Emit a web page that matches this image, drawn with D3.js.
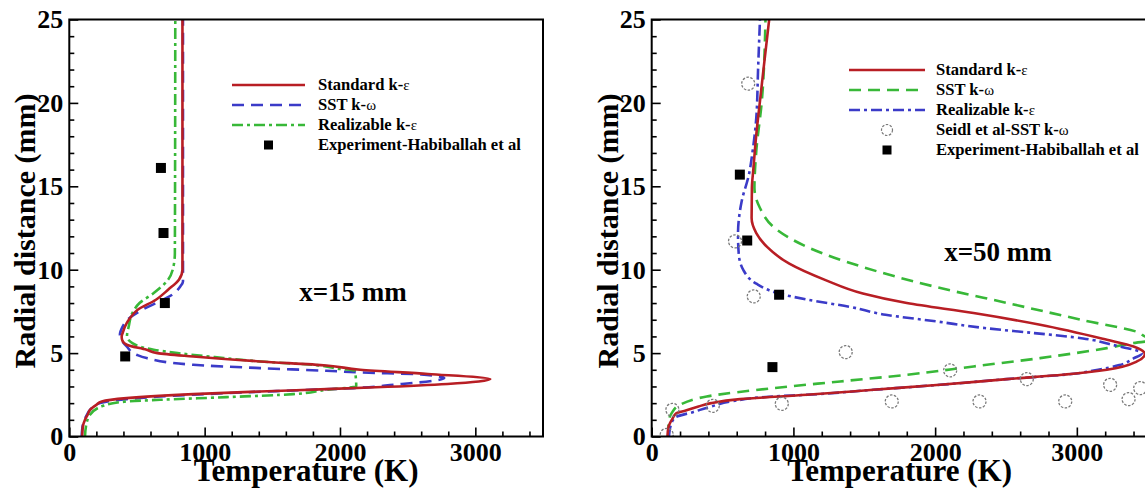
<!DOCTYPE html>
<html><head><meta charset="utf-8">
<script src="https://cdn.jsdelivr.net/npm/d3@7"></script>
<style>
body{margin:0;background:#fff}
text{font-family:"Liberation Serif","Times New Roman",serif;font-weight:bold;fill:#000}
</style>
</head><body>
<svg id="chart" width="1145" height="488"></svg>
<script>
// ---- data: [temperature (K), radial distance (mm)] ----
// Panel x = 15 mm
const left_standard = [[95,0],[100,0.6],[116,1.0],[135,1.3],[153,1.6],[200,1.9],[240,2.1],[424,2.3],[916,2.54],[1409,2.7],[1901,2.84],[2265,2.95],[2794,3.15],[3111,3.44],[2650,3.75],[2150,4.0],[1900,4.26],[1409,4.5],[916,4.8],[651,5.0],[571,5.2],[424,5.5],[390,5.8],[387,6.0],[394,6.2],[424,6.8],[440,7.0],[505,7.6],[640,8.2],[730,8.8],[810,9.4],[836,10.0],[836,25]];
const left_sst = [[91,0],[103,0.8],[130,1.3],[153,1.6],[227,2.0],[424,2.24],[670,2.4],[1163,2.6],[1655,2.76],[2100,2.9],[2397,3.1],[2770,3.5],[2600,3.72],[2150,3.84],[1900,3.94],[1409,4.1],[916,4.3],[571,4.7],[498,4.9],[424,5.4],[374,6.1],[395,6.6],[430,7.0],[540,7.6],[640,8.0],[760,8.5],[820,9.0],[840,9.3],[840,25]];
const left_realizable = [[116,0],[123,0.6],[153,1.3],[251,1.84],[424,2.1],[670,2.2],[1163,2.36],[1655,2.54],[1900,2.8],[2098,2.96],[2120,3.0],[2110,3.95],[2000,4.05],[1850,4.26],[1409,4.5],[1074,4.76],[800,5.0],[624,5.2],[466,5.6],[426,6.0],[439,6.6],[466,7.4],[519,8.0],[624,8.6],[730,9.4],[770,10.2],[780,11],[783,25]];
const left_experiment = [[677,16.1],[696,12.2],[706,8.0],[413,4.8]];

// Panel x = 50 mm
const right_standard = [[111,0],[118,0.56],[146,1.06],[175,1.4],[240,1.56],[330,1.8],[420,2.0],[624,2.24],[1094,2.5],[1565,2.8],[2035,3.1],[2506,3.44],[2976,3.76],[3212,4.0],[3424,4.5],[3480,4.95],[3400,5.4],[3212,5.8],[2741,6.7],[2271,7.4],[1800,8.0],[1490,8.57],[1231,9.36],[971,10.36],[816,11.35],[738,12.2],[705,13.1],[707,14.9],[718,16.1],[738,18.1],[764,20.1],[790,22.1],[829,25]];
const right_sst = [[118,0],[118,0.8],[141,1.4],[200,1.9],[388,2.4],[859,2.9],[1329,3.3],[1800,3.7],[2271,4.2],[2741,4.7],[3212,5.3],[3400,5.6],[3600,5.85],[3482,6.0],[3447,6.2],[3044,6.97],[2526,7.97],[2008,8.96],[1490,10.16],[1101,11.35],[868,12.5],[764,13.7],[725,14.9],[738,17.1],[777,20.1],[803,25]];
const right_realizable = [[122,0],[134,0.66],[169,1.16],[290,1.46],[420,1.8],[560,2.1],[859,2.4],[1094,2.5],[1565,2.8],[2035,3.1],[2506,3.44],[2976,3.76],[3150,4.0],[3300,4.28],[3400,4.68],[3458,4.98],[3250,5.5],[3044,5.88],[2700,6.2],[2350,6.5],[2008,6.9],[1650,7.3],[1400,7.77],[1100,8.2],[900,8.57],[738,9.16],[648,9.96],[614,10.96],[609,12.15],[635,14.1],[686,15.7],[712,17.1],[738,19.1],[751,22.1],[764,25]];
const right_seidl = [[681,21.15],[588,11.7],[720,8.4],[1369,5.06],[2106,3.96],[2647,3.44],[3235,3.1],[3447,2.9],[3365,2.24],[2918,2.1],[2313,2.1],[1694,2.1],[918,1.96],[431,1.84],[146,1.6],[106,0.1]];
const right_experiment = [[622,15.7],[674,11.75],[899,8.5],[852,4.16]];

const xMajorTicks = [0,1000,2000,3000];
const yMajorTicks = [0,5,10,15,20,25];
const leftLegendLabels = ["Standard k-", "SST k-", "Realizable k-", "Experiment-Habiballah et al"];
const rightLegendLabels = ["Standard k-", "SST k-", "Realizable k-", "Seidl et al-SST k-", "Experiment-Habiballah et al"];
const legendGreek = ["ε","ω","ε","ω",""];
const panelLabels = ["x=15 mm","x=50 mm"];

// ---- styles ----
const RED="#b81e24", BLUE="#3b3bc8", GREEN="#38b838";
const DASH="12,7", DASHDOT="11,4,3,4";
const Y0=436.5, Y1=19.5;

const svg = d3.select("#chart");

function panel(o){
  const x = d3.scaleLinear().domain([0,3500]).range([o.x0,o.x1]);
  const y = d3.scaleLinear().domain([0,25]).range([Y0,Y1]);
  const g = svg.append("g");
  const cid = "clip"+o.id;
  svg.append("clipPath").attr("id",cid).append("rect")
    .attr("x",o.x0).attr("y",Y1).attr("width",o.x1-o.x0).attr("height",Y0-Y1);
  const pg = g.append("g").attr("clip-path","url(#"+cid+")");
  const line = d3.line().x(d=>x(d[0])).y(d=>y(d[1])).curve(d3.curveMonotoneY);
  o.series.forEach(s=>{
    pg.append("path").datum(s.data).attr("d",line).attr("fill","none")
      .attr("stroke",s.color).attr("stroke-width",2.6)
      .attr("stroke-dasharray",s.dash||null).attr("stroke-linejoin","round");
  });
  if(o.circles){
    pg.selectAll(".c").data(o.circles).enter().append("circle")
      .attr("cx",d=>x(d[0])).attr("cy",d=>y(d[1])).attr("r",6.5)
      .attr("fill","none").attr("stroke","#7a7a7a").attr("stroke-width",1.3).attr("stroke-dasharray","2.5,1.5");
  }
  pg.selectAll(".s").data(o.squares).enter().append("rect")
    .attr("x",d=>x(d[0])-5).attr("y",d=>y(d[1])-5).attr("width",10).attr("height",10).attr("fill","#000");

  // frame
  g.append("rect").attr("x",o.x0).attr("y",Y1).attr("width",o.x1-o.x0).attr("height",Y0-Y1)
    .attr("fill","none").attr("stroke","#000").attr("stroke-width",2);

  // axes
  const xMinor = d3.range(0,3501,200).filter(v=>v%1000!==0);
  const yMinor = d3.range(0,26,1).filter(v=>v%5!==0);
  const xa = d3.axisBottom(x).tickValues(xMajorTicks).tickSize(-9).tickPadding(6).tickFormat(d3.format("d"));
  const xm = d3.axisBottom(x).tickValues(xMinor).tickSize(-5).tickFormat("");
  const ya = d3.axisLeft(y).tickValues(yMajorTicks).tickSize(-9).tickPadding(6).tickFormat(d3.format("d"));
  const ym = d3.axisLeft(y).tickValues(yMinor).tickSize(-5).tickFormat("");
  [[xa,"x"],[xm,"x"],[ya,"y"],[ym,"y"]].forEach(([ax,t])=>{
    const a = g.append("g").attr("transform", t==="x" ? "translate(0,"+Y0+")" : "translate("+o.x0+",0)").call(ax);
    a.attr("font-size",null).attr("font-family",null);
    a.select(".domain").remove();
    a.selectAll("line").attr("stroke","#000").attr("stroke-width",1.6);
    a.selectAll("text").style("font-size","26px").style("font-weight","bold").attr("fill","#000");
  });

  // axis titles
  g.append("text").attr("x",(o.x0+o.x1)/2).attr("y",481).attr("text-anchor","middle")
    .style("font-size","31px").text("Temperature (K)");
  g.append("text").attr("transform","translate("+(o.x0-34)+",231) rotate(-90)").attr("text-anchor","middle")
    .style("font-size","30px").text("Radial distance (mm)");

  // panel label
  g.append("text").attr("x",o.lx).attr("y",o.ly).attr("text-anchor","middle").style("font-size","27px").text(o.label);

  // legend
  o.legend.forEach((L,i)=>{
    const yy = o.legY + i*20;
    const cx=(o.legX0+o.legX1)/2;
    if(L.type==="line"){
      g.append("line").attr("x1",o.legX0).attr("x2",o.legX1).attr("y1",yy).attr("y2",yy)
        .attr("stroke",L.color).attr("stroke-width",2.6).attr("stroke-dasharray",L.dash||null);
    } else if(L.type==="square"){
      g.append("rect").attr("x",cx-4.5).attr("y",yy-4.5).attr("width",9).attr("height",9).attr("fill","#000");
    } else {
      g.append("circle").attr("cx",cx).attr("cy",yy).attr("r",5.5).attr("fill","none")
        .attr("stroke","#7a7a7a").attr("stroke-width",1.2).attr("stroke-dasharray","2.5,1.5");
    }
    const t = g.append("text").attr("x",o.legTx).attr("y",yy+5).style("font-size","16.6px");
    t.append("tspan").text(L.text);
    if(L.greek) t.append("tspan").style("font-weight","normal").style("font-size","15px").text(L.greek);
  });
}

panel({id:"L",x0:69.3,x1:543,
  series:[{data:left_sst,color:BLUE,dash:DASH},{data:left_realizable,color:GREEN,dash:DASHDOT},{data:left_standard,color:RED}],
  squares:left_experiment,
  label:panelLabels[0],lx:353,ly:301,
  legX0:232,legX1:305,legTx:318,legY:85,
  legend:[
    {type:"line",color:RED,text:leftLegendLabels[0],greek:legendGreek[0]},
    {type:"line",color:BLUE,dash:DASH,text:leftLegendLabels[1],greek:legendGreek[1]},
    {type:"line",color:GREEN,dash:DASHDOT,text:leftLegendLabels[2],greek:legendGreek[2]},
    {type:"square",text:leftLegendLabels[3]}
  ]});

panel({id:"R",x0:651.7,x1:1147.7,
  series:[{data:right_sst,color:GREEN,dash:DASH},{data:right_realizable,color:BLUE,dash:DASHDOT},{data:right_standard,color:RED}],
  squares:right_experiment,circles:right_seidl,
  label:panelLabels[1],lx:998,ly:261,
  legX0:849,legX1:925,legTx:936,legY:70,
  legend:[
    {type:"line",color:RED,text:rightLegendLabels[0],greek:legendGreek[0]},
    {type:"line",color:GREEN,dash:DASH,text:rightLegendLabels[1],greek:legendGreek[1]},
    {type:"line",color:BLUE,dash:DASHDOT,text:rightLegendLabels[2],greek:legendGreek[2]},
    {type:"circle",text:rightLegendLabels[3],greek:legendGreek[3]},
    {type:"square",text:rightLegendLabels[4]}
  ]});
</script>
</body></html>
